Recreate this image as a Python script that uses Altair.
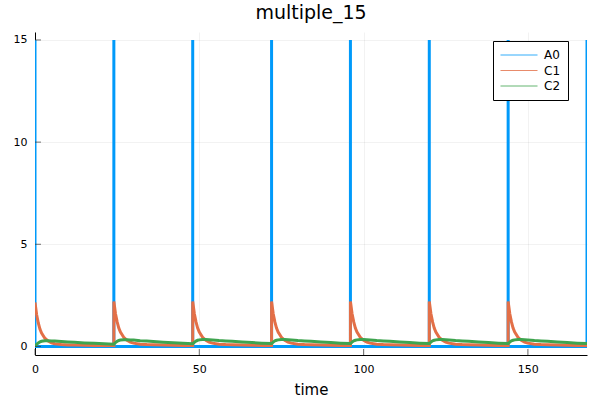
import altair as alt
import pandas as pd

# ---- data ----
dose_times = [0, 24, 48, 72, 96, 120, 144]
offsets = [0, 0.5, 1, 1.5, 2, 3, 4, 5, 6, 8, 10, 12, 15, 18, 21, 24]

c1_intervals = [
    [2.15, 1.55, 1.15, 0.85, 0.65, 0.40, 0.26, 0.18, 0.13, 0.09, 0.075, 0.065, 0.055, 0.05, 0.045, 0.04],
    [2.20, 1.60, 1.20, 0.90, 0.70, 0.45, 0.30, 0.21, 0.16, 0.11, 0.09, 0.08, 0.065, 0.055, 0.05, 0.045],
    [2.20, 1.60, 1.20, 0.90, 0.70, 0.45, 0.30, 0.21, 0.16, 0.11, 0.09, 0.08, 0.065, 0.055, 0.05, 0.045],
    [2.20, 1.60, 1.20, 0.90, 0.70, 0.45, 0.30, 0.21, 0.16, 0.11, 0.09, 0.08, 0.065, 0.055, 0.05, 0.045],
    [2.20, 1.60, 1.20, 0.90, 0.70, 0.45, 0.30, 0.21, 0.16, 0.11, 0.09, 0.08, 0.065, 0.055, 0.05, 0.045],
    [2.20, 1.60, 1.20, 0.90, 0.70, 0.45, 0.30, 0.21, 0.16, 0.11, 0.09, 0.08, 0.065, 0.055, 0.05, 0.045],
    [2.20, 1.60, 1.20, 0.90, 0.70, 0.45, 0.30, 0.21, 0.16, 0.11, 0.09, 0.08, 0.065, 0.055, 0.05, 0.045],
]
c2_intervals = [
    [0.00, 0.10, 0.17, 0.22, 0.25, 0.28, 0.28, 0.27, 0.26, 0.24, 0.22, 0.20, 0.17, 0.15, 0.13, 0.11],
    [0.11, 0.19, 0.25, 0.29, 0.31, 0.33, 0.33, 0.32, 0.31, 0.28, 0.26, 0.24, 0.21, 0.18, 0.16, 0.13],
    [0.13, 0.20, 0.26, 0.30, 0.32, 0.34, 0.34, 0.33, 0.32, 0.29, 0.27, 0.25, 0.22, 0.19, 0.16, 0.14],
    [0.14, 0.21, 0.27, 0.30, 0.32, 0.34, 0.34, 0.33, 0.32, 0.29, 0.27, 0.25, 0.22, 0.19, 0.16, 0.14],
    [0.14, 0.21, 0.27, 0.30, 0.32, 0.34, 0.34, 0.33, 0.32, 0.29, 0.27, 0.25, 0.22, 0.19, 0.16, 0.14],
    [0.14, 0.21, 0.27, 0.30, 0.32, 0.34, 0.34, 0.33, 0.32, 0.29, 0.27, 0.25, 0.22, 0.19, 0.16, 0.14],
    [0.14, 0.21, 0.27, 0.30, 0.32, 0.34, 0.34, 0.33, 0.32, 0.29, 0.27, 0.25, 0.22, 0.19, 0.16, 0.14],
]

a0_times = [0, 0, 24, 24, 24, 48, 48, 48, 72, 72, 72, 96, 96, 96,
            120, 120, 120, 144, 144, 144, 168, 168]
a0_values = [15, 0, 0, 15, 0, 0, 15, 0, 0, 15, 0, 0, 15, 0,
             0, 15, 0, 0, 15, 0, 0, 15]

series_names = ["A0", "C1", "C2"]
series_colors = ["#009AFA", "#E36F47", "#3EA44E"]
x_ticks = [0, 50, 100, 150]
y_ticks = [0, 5, 10, 15]

# ---- build long table ----
rows = []
for i, (t, v) in enumerate(zip(a0_times, a0_values)):
    rows.append({"time": t, "value": v, "series": "A0", "ord": i})
for name, intervals in (("C1", c1_intervals), ("C2", c2_intervals)):
    k = 0
    for d, vals in zip(dose_times, intervals):
        for o, v in zip(offsets, vals):
            rows.append({"time": d + o, "value": v, "series": name, "ord": k})
            k += 1
df = pd.DataFrame(rows)

FONT = "DejaVu Sans"
xscale = alt.Scale(domain=[0, 168], nice=False, zero=False)
yscale = alt.Scale(domain=[-0.42, 15.39], nice=False, zero=False)

lines = alt.Chart(df).mark_line(strokeWidth=3, clip=True).encode(
    x=alt.X("time:Q", scale=xscale,
            axis=alt.Axis(title="time", values=x_ticks, ticks=False, grid=True,
                          labelFlush=False, labelPadding=8, titlePadding=8)),
    y=alt.Y("value:Q", scale=yscale,
            axis=alt.Axis(title=None, values=y_ticks, ticks=False, grid=True,
                          labelPadding=8)),
    color=alt.Color("series:N",
                    scale=alt.Scale(domain=series_names, range=series_colors),
                    legend=alt.Legend(title=None, orient="none", legendX=458, legendY=9,
                                      symbolType="stroke", symbolSize=1369,
                                      symbolStrokeWidth=1, symbolOpacity=0.8, clipHeight=14,
                                      rowPadding=1.5, padding=7,
                                      strokeColor="black", fillColor="white",
                                      labelFontSize=12, labelFont=FONT, labelColor="black",
                                      labelOffset=6)),
    order="ord:Q",
)

ytick_df = pd.DataFrame({"v": y_ticks})
xtick_df = pd.DataFrame({"v": x_ticks})
yticks = alt.Chart(ytick_df).mark_tick(orient="horizontal", size=6, thickness=1, color="#333").encode(
    y=alt.Y("v:Q", scale=yscale), x=alt.value(3))
xticks = alt.Chart(xtick_df).mark_tick(orient="vertical", size=6, thickness=1, color="#333").encode(
    x=alt.X("v:Q", scale=xscale), y=alt.value(320))

chart = alt.layer(lines, yticks, xticks).properties(
    width=552, height=323,
    title=alt.Title("multiple_15", fontSize=19, font=FONT, fontWeight="normal",
                    anchor="middle", offset=9, color="black"),
    padding={"left": 35, "top": 32, "right": 13, "bottom": 45},
    autosize="none",
).configure_axis(
    labelFont=FONT, labelFontSize=11, labelColor="black",
    titleFont=FONT, titleFontSize=15, titleFontWeight="normal", titleColor="black",
    domainColor="black", gridColor="black", gridOpacity=0.05,
).configure_view(stroke=None)

chart.save("out.html", embed_options={"renderer": "svg", "actions": False})
